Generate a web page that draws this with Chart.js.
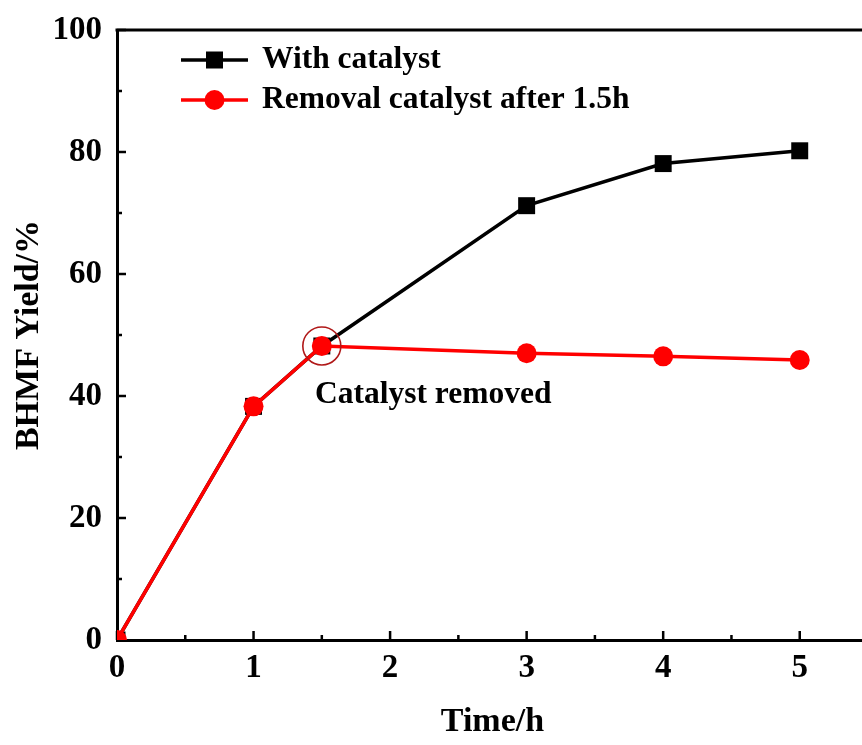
<!DOCTYPE html>
<html>
<head>
<meta charset="utf-8">
<script src="https://cdn.jsdelivr.net/npm/chart.js@4.4.0/dist/chart.umd.min.js"></script>
<style>
  html, body { margin: 0; padding: 0; background: #fff; overflow: hidden; }
  #wrap { width: 880px; height: 745px; }
</style>
</head>
<body>
<div id="wrap"><canvas id="c" width="880" height="745" style="width:880px;height:745px"></canvas></div>
<script>
// ---- data ----
const seriesNames = ['With catalyst', 'Removal catalyst after 1.5h'];
const timeWith = [0, 1, 1.5, 3, 4, 5];
const yieldWith = [0, 38.3, 48.2, 71.2, 78.1, 80.2];
const timeRemoval = [0, 1, 1.5, 3, 4, 5];
const yieldRemoval = [0, 38.3, 48.2, 47.0, 46.5, 45.9];
const xTicks = [0, 1, 2, 3, 4, 5];
const yTicks = [0, 20, 40, 60, 80, 100];
const xMinorTicks = [0.5, 1.5, 2.5, 3.5, 4.5];
const yMinorTicks = [10, 30, 50, 70, 90];
const annotationText = 'Catalyst removed';
const removalPoint = { x: 1.5, y: 48.2 };
const annotationTextPos = { x: 1.45, y: 40.2 };

const FONT = 'Liberation Serif, "Times New Roman", serif';

const toPts = (xs, ys) => xs.map((x, i) => ({ x, y: ys[i] }));

const framePlugin = {
  id: 'frame',
  afterDraw(chart) {
    const { ctx, chartArea: a, scales: { x, y } } = chart;
    ctx.save();
    ctx.strokeStyle = '#000';
    ctx.lineWidth = 3;
    // top border
    ctx.beginPath();
    ctx.moveTo(a.left - 1.5, a.top);
    ctx.lineTo(a.right, a.top);
    ctx.stroke();
    // inward ticks
    ctx.lineWidth = 2.5;
    xTicks.forEach(v => { const px = x.getPixelForValue(v); ctx.beginPath(); ctx.moveTo(px, a.bottom); ctx.lineTo(px, a.bottom - 9); ctx.stroke(); });
    xMinorTicks.forEach(v => { const px = x.getPixelForValue(v); ctx.beginPath(); ctx.moveTo(px, a.bottom); ctx.lineTo(px, a.bottom - 5); ctx.stroke(); });
    yTicks.forEach(v => { const py = y.getPixelForValue(v); ctx.beginPath(); ctx.moveTo(a.left, py); ctx.lineTo(a.left + 9, py); ctx.stroke(); });
    yMinorTicks.forEach(v => { const py = y.getPixelForValue(v); ctx.beginPath(); ctx.moveTo(a.left, py); ctx.lineTo(a.left + 5, py); ctx.stroke(); });

    // origin markers (clipped to plot area)
    ctx.save();
    ctx.beginPath();
    ctx.rect(a.left, a.top, a.right - a.left, a.bottom - a.top);
    ctx.clip();
    ctx.fillStyle = '#ff0000';
    ctx.beginPath();
    ctx.arc(x.getPixelForValue(timeRemoval[0]), y.getPixelForValue(yieldRemoval[0]), 9.5, 0, Math.PI * 2);
    ctx.fill();
    ctx.restore();

    // annotation circle
    ctx.strokeStyle = '#b01818';
    ctx.lineWidth = 1.6;
    ctx.beginPath();
    ctx.arc(x.getPixelForValue(removalPoint.x), y.getPixelForValue(removalPoint.y), 19, 0, Math.PI * 2);
    ctx.stroke();

    // annotation text
    ctx.fillStyle = '#000';
    ctx.font = 'bold 31.5px ' + FONT;
    ctx.textAlign = 'left';
    ctx.textBaseline = 'middle';
    ctx.fillText(annotationText, x.getPixelForValue(annotationTextPos.x), y.getPixelForValue(annotationTextPos.y));

    // legend
    const rows = [
      { ds: chart.data.datasets[1], dy: 30 },
      { ds: chart.data.datasets[0], dy: 70 }
    ];
    rows.forEach(r => {
      const yy = a.top + r.dy;
      const x0 = a.left + 64, x1 = a.left + 131, xm = (x0 + x1) / 2;
      ctx.strokeStyle = r.ds.borderColor;
      ctx.lineWidth = 3.5;
      ctx.beginPath(); ctx.moveTo(x0, yy); ctx.lineTo(x1, yy); ctx.stroke();
      ctx.fillStyle = r.ds.backgroundColor;
      if (r.ds.pointStyle === 'rect') {
        ctx.fillRect(xm - 8.5, yy - 8.5, 17, 17);
      } else {
        ctx.beginPath(); ctx.arc(xm, yy, 10, 0, Math.PI * 2); ctx.fill();
      }
      ctx.fillStyle = '#000';
      ctx.textBaseline = 'middle';
      ctx.fillText(r.ds.label, a.left + 145, yy);
    });
    ctx.restore();
  }
};

new Chart(document.getElementById('c'), {
  type: 'scatter',
  data: {
    datasets: [
      {
        label: seriesNames[1],
        data: toPts(timeRemoval, yieldRemoval),
        showLine: true,
        borderColor: '#ff0000',
        backgroundColor: '#ff0000',
        borderWidth: 3.5,
        pointStyle: 'circle',
        pointRadius: 10,
        pointHoverRadius: 10,
        pointBorderWidth: 0,
        order: 0,
        clip: 0
      },
      {
        label: seriesNames[0],
        data: toPts(timeWith, yieldWith),
        showLine: true,
        borderColor: '#000000',
        backgroundColor: '#000000',
        borderWidth: 3.5,
        pointStyle: 'rect',
        pointRadius: 12,
        pointHoverRadius: 12,
        pointBorderWidth: 0,
        order: 1,
        clip: 0
      }
    ]
  },
  options: {
    responsive: false,
    animation: false,
    devicePixelRatio: 1,
    layout: { padding: { left: 0, right: 10, top: 30, bottom: 0 } },
    plugins: { legend: { display: false }, tooltip: { enabled: false } },
    scales: {
      x: {
        type: 'linear',
        min: 0,
        max: 5.5,
        afterBuildTicks: s => { s.ticks = xTicks.map(v => ({ value: v })); },
        afterFit: s => { s.height = 105; s.paddingLeft = 0; s.paddingRight = 0; },
        grid: { display: true, drawOnChartArea: false, drawTicks: false },
        border: { display: true, color: '#000', width: 3 },
        ticks: { color: '#000', padding: 9, maxRotation: 0, font: { family: FONT, size: 33, weight: 'bold' } },
        title: { display: true, text: 'Time/h', color: '#000', padding: { top: 0, bottom: 2 }, font: { family: FONT, size: 34, weight: 'bold' } }
      },
      y: {
        type: 'linear',
        min: 0,
        max: 100,
        afterBuildTicks: s => { s.ticks = yTicks.map(v => ({ value: v })); },
        afterFit: s => { s.width = 117; s.paddingTop = 0; s.paddingBottom = 0; },
        grid: { display: true, drawOnChartArea: false, drawTicks: false },
        border: { display: true, color: '#000', width: 3 },
        ticks: { color: '#000', padding: 15, font: { family: FONT, size: 33, weight: 'bold' } },
        title: { display: true, text: 'BHMF Yield/%', color: '#000', padding: { top: 9, bottom: 0 }, font: { family: FONT, size: 34, weight: 'bold' } }
      }
    }
  },
  plugins: [framePlugin]
});
</script>
</body>
</html>
